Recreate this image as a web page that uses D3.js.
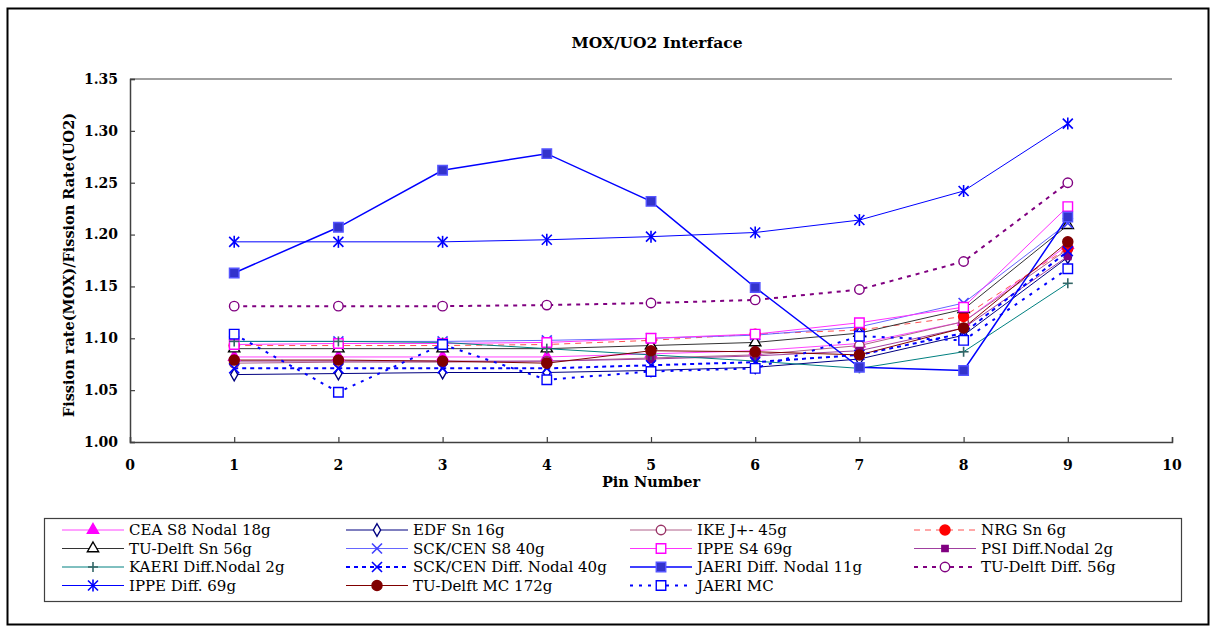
<!DOCTYPE html>
<html>
<head>
<meta charset="utf-8">
<script src="https://cdn.jsdelivr.net/npm/d3@7"></script>
<style>
  body { margin: 0; background: #fff; }
  svg { display: block; font-family: "DejaVu Serif", "Liberation Serif", serif; }
</style>
</head>
<body>
<svg id="chart" width="1217" height="631"></svg>
<script>
// pins along x
const pins = [1, 2, 3, 4, 5, 6, 7, 8, 9]
const xTicks = [0, 1, 2, 3, 4, 5, 6, 7, 8, 9, 10]
const yTicks = [1.00, 1.05, 1.10, 1.15, 1.20, 1.25, 1.30, 1.35]

// series values
const ceaS8Nodal   = [1.082, 1.082, 1.082, 1.082, 1.085, 1.088, 1.095, 1.116, 1.190]
const edfSn        = [1.065, 1.066, 1.067, 1.067, 1.069, 1.072, 1.080, 1.103, 1.178]
const ikeJ         = [1.076, 1.077, 1.077, 1.078, 1.081, 1.084, 1.093, 1.116, 1.186]
const nrgSn        = [1.093, 1.093, 1.093, 1.094, 1.098, 1.104, 1.108, 1.121, 1.187]
const tuDelftSn    = [1.090, 1.090, 1.090, 1.090, 1.093, 1.096, 1.105, 1.128, 1.209]
const sckS8        = [1.097, 1.097, 1.097, 1.098, 1.100, 1.103, 1.111, 1.134, 1.211]
const ippeS4       = [1.094, 1.095, 1.095, 1.096, 1.100, 1.104, 1.115, 1.130, 1.227]
const psiDiff      = [1.078, 1.078, 1.078, 1.078, 1.080, 1.083, 1.088, 1.110, 1.179]
const kaeriDiff    = [1.097, 1.097, 1.096, 1.090, 1.084, 1.078, 1.071, 1.087, 1.153]
const sckDiff      = [1.071, 1.071, 1.071, 1.071, 1.074, 1.077, 1.084, 1.105, 1.184]
const jaeriDiff    = [1.163, 1.207, 1.262, 1.278, 1.232, 1.149, 1.072, 1.069, 1.217]
const tuDelftDiff  = [1.131, 1.131, 1.131, 1.132, 1.134, 1.137, 1.147, 1.174, 1.250]
const ippeDiff     = [1.193, 1.193, 1.193, 1.195, 1.198, 1.202, 1.214, 1.242, 1.307]
const tuDelftMC    = [1.079, 1.079, 1.078, 1.076, 1.088, 1.087, 1.084, 1.110, 1.193]
const jaeriMC      = [1.104, 1.048, 1.094, 1.060, 1.068, 1.071, 1.102, 1.098, 1.167]

// legend order (row by row, 4 columns)
const series = [
  {name: "CEA S8 Nodal 18g", v: ceaS8Nodal, line: "#ff44ff", w: 1, dash: null, mk: "tri", stroke: "#ff00ff", fill: "#ff00ff"},
  {name: "EDF Sn 16g", v: edfSn, line: "#000080", w: 1, dash: null, mk: "diamond", stroke: "#000080", fill: "#fff"},
  {name: "IKE J+- 45g", v: ikeJ, line: "#b0608a", w: 1, dash: null, mk: "circle", stroke: "#993366", fill: "#fff"},
  {name: "NRG Sn 6g", v: nrgSn, line: "#ff5050", w: 1, dash: "6,5", mk: "circle", stroke: "#ff0000", fill: "#ff0000"},
  {name: "TU-Delft Sn 56g", v: tuDelftSn, line: "#333333", w: 1, dash: null, mk: "tri", stroke: "#000", fill: "#fff"},
  {name: "SCK/CEN S8 40g", v: sckS8, line: "#6666ff", w: 1, dash: null, mk: "x", stroke: "#4040ff", fill: "none"},
  {name: "IPPE S4 69g", v: ippeS4, line: "#ff33ff", w: 1, dash: null, mk: "square", stroke: "#ff00ff", fill: "#fff"},
  {name: "PSI Diff.Nodal 2g", v: psiDiff, line: "#a040a0", w: 1, dash: null, mk: "smallsq", stroke: "#800080", fill: "#800080"},
  {name: "KAERI Diff.Nodal 2g", v: kaeriDiff, line: "#008080", w: 1, dash: null, mk: "plus", stroke: "#336666", fill: "none"},
  {name: "SCK/CEN Diff. Nodal 40g", v: sckDiff, line: "#0000ff", w: 2, dash: "4,4", mk: "x", stroke: "#0000ff", fill: "none"},
  {name: "JAERI Diff. Nodal 11g", v: jaeriDiff, line: "#0000ff", w: 1.5, dash: null, mk: "square", stroke: "#5555ff", fill: "#3333cc"},
  {name: "TU-Delft Diff. 56g", v: tuDelftDiff, line: "#800080", w: 2, dash: "4,5", mk: "circle", stroke: "#800080", fill: "#fff"},
  {name: "IPPE Diff. 69g", v: ippeDiff, line: "#0000ff", w: 1, dash: null, mk: "star", stroke: "#0000ff", fill: "none"},
  {name: "TU-Delft MC 172g", v: tuDelftMC, line: "#800000", w: 1, dash: null, mk: "circle", stroke: "#800000", fill: "#800000"},
  {name: "JAERI MC", v: jaeriMC, line: "#0000ff", w: 2, dash: "3,6", mk: "square", stroke: "#0000ff", fill: "#fff"}
]

const svg = d3.select("#chart")

// outer frame
svg.append("rect").attr("x", 7.5).attr("y", 8.5).attr("width", 1201).attr("height", 616)
  .attr("fill", "#fff").attr("stroke", "#000").attr("stroke-width", 2)

const x = d3.scaleLinear().domain([0, 10]).range([130, 1172])
const y = d3.scaleLinear().domain([1.00, 1.35]).range([442, 79])

// top border of plot area
svg.append("line").attr("x1", x(0)).attr("x2", x(10)).attr("y1", y(1.35)).attr("y2", y(1.35))
  .attr("stroke", "#808080").attr("stroke-width", 1.5)

const yAxis = svg.append("g").attr("transform", `translate(${x(0)},0)`)
  .call(d3.axisRight(y).tickValues(yTicks).tickSize(5).tickFormat(""))
yAxis.select(".domain").attr("stroke", "#404040").attr("stroke-width", 1.5)
yAxis.selectAll(".tick line").attr("stroke", "#404040").attr("stroke-width", 1.2)

const xAxis = svg.append("g").attr("transform", `translate(0,${y(1.00)})`)
  .call(d3.axisTop(x).tickValues(xTicks).tickSize(5).tickFormat(""))
xAxis.select(".domain").attr("stroke", "#404040").attr("stroke-width", 1.5)
xAxis.selectAll(".tick line").attr("stroke", "#404040").attr("stroke-width", 1.2)

// tick labels
svg.selectAll(".ylab").data(yTicks).enter().append("text")
  .attr("x", 118).attr("y", d => y(d)).attr("dy", "0.35em")
  .attr("text-anchor", "end").attr("font-size", 14).attr("font-weight", "bold")
  .text(d => d.toFixed(2))
svg.selectAll(".xlab").data(xTicks).enter().append("text")
  .attr("x", d => x(d)).attr("y", 465).attr("dy", "0.35em")
  .attr("text-anchor", "middle").attr("font-size", 14).attr("font-weight", "bold")
  .text(d => d)

svg.append("text").attr("x", 651).attr("y", 482).attr("dy", "0.35em")
  .attr("text-anchor", "middle").attr("font-size", 14.5).attr("font-weight", "bold")
  .text("Pin Number")
svg.append("text").attr("transform", "translate(69,265) rotate(-90)").attr("dy", "0.35em")
  .attr("text-anchor", "middle").attr("font-size", 14.5).attr("font-weight", "bold")
  .text("Fission rate(MOX)/Fission Rate(UO2)")
svg.append("text").attr("x", 657).attr("y", 43).attr("dy", "0.35em")
  .attr("text-anchor", "middle").attr("font-size", 15.5).attr("font-weight", "bold")
  .text("MOX/UO2 Interface")

function marker(g, s, cx, cy) {
  const m = g.append("g").attr("transform", `translate(${cx},${cy})`)
  if (s.mk === "x" || s.mk === "plus" || s.mk === "star") {
    const r = 5
    let segs = []
    if (s.mk === "x") segs = [[-r, -r, r, r], [-r, r, r, -r]]
    if (s.mk === "plus") segs = [[-r, 0, r, 0], [0, -r, 0, r]]
    if (s.mk === "star") segs = [[-r, -r, r, r], [-r, r, r, -r], [0, -r - 1, 0, r + 1]]
    segs.forEach(p => m.append("line").attr("x1", p[0]).attr("y1", p[1]).attr("x2", p[2]).attr("y2", p[3])
      .attr("stroke", s.stroke).attr("stroke-width", 1.6))
    return
  }
  let type = d3.symbolCircle, size = 80
  if (s.mk === "tri") { type = d3.symbolTriangle; size = 55 }
  if (s.mk === "diamond") { type = d3.symbolDiamond; size = 45 }
  if (s.mk === "square") { type = d3.symbolSquare; size = 90 }
  if (s.mk === "smallsq") { type = d3.symbolSquare; size = 40 }
  if (s.mk === "circle" && s.fill === "#fff") size = 70
  m.append("path").attr("d", d3.symbol().type(type).size(size)())
    .attr("fill", s.fill).attr("stroke", s.stroke).attr("stroke-width", 1.4)
}

const line = d3.line().x((d, i) => x(pins[i])).y(d => y(d))

const plot = svg.append("g")
series.forEach(s => {
  plot.append("path").datum(s.v).attr("d", line)
    .attr("fill", "none").attr("stroke", s.line).attr("stroke-width", s.w)
    .attr("stroke-dasharray", s.dash)
})
series.forEach(s => {
  s.v.forEach((d, i) => marker(plot, s, x(pins[i]), y(d)))
})

// legend
svg.append("rect").attr("x", 44.5).attr("y", 518.5).attr("width", 1137).attr("height", 83)
  .attr("fill", "#fff").attr("stroke", "#404040").attr("stroke-width", 1.2)

const colX = [62, 346, 630, 914]
const rowY = [530, 548.5, 567, 585.5]
series.forEach((s, i) => {
  const lx = colX[i % 4], ly = rowY[Math.floor(i / 4)]
  const g = svg.append("g")
  g.append("line").attr("x1", lx).attr("x2", lx + 62).attr("y1", ly).attr("y2", ly)
    .attr("stroke", s.line).attr("stroke-width", s.w).attr("stroke-dasharray", s.dash)
  marker(g, s, lx + 31, ly)
  g.append("text").attr("x", lx + 67).attr("y", ly).attr("dy", "0.35em")
    .attr("font-size", 15).text(s.name)
})
</script>
</body>
</html>
